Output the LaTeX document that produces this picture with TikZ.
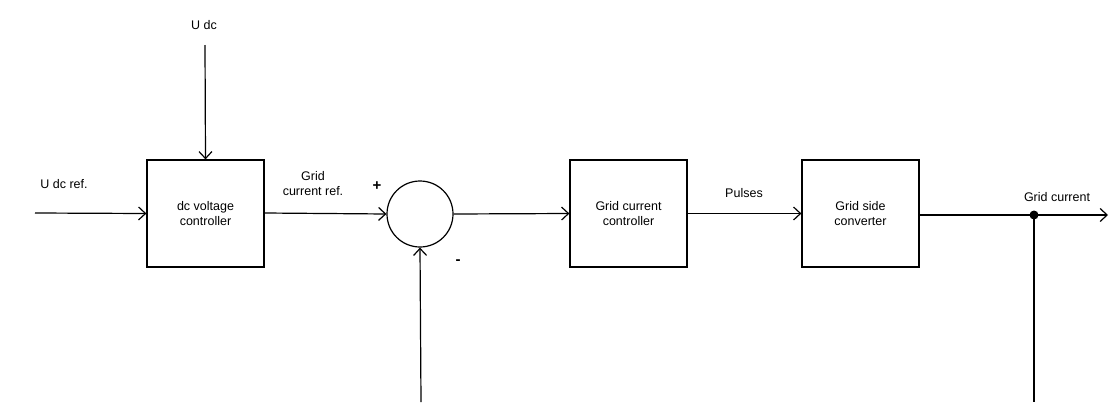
\documentclass[tikz,border=0pt]{standalone}
\usepackage{fontspec}
\setmainfont{Liberation Sans}
\usetikzlibrary{arrows.meta}
\begin{document}
\begin{tikzpicture}[x=1pt,y=-1pt,
  every node/.style={font=\fontsize{12.5}{15}\selectfont, inner sep=0pt},
  blockbox/.style={draw, line width=1.2pt, minimum width=117pt, minimum height=107pt, align=center},
  sumnode/.style={draw, circle, line width=1.2pt, minimum size=66pt},
  conn/.style={line width=1.2pt, -{Straight Barb[length=7pt,width=13pt,line width=1.2pt]}},
  wire/.style={line width=1.2pt},
  lbl/.style={align=center}]
\useasboundingbox (0,0) rectangle (1112,402);
% blocks
\node[blockbox] (dcv) at (205.5,213.5) {dc voltage\\controller};
\node[sumnode] (sum) at (420,214) {};
\node[blockbox] (gcc) at (628.5,213.5) {Grid current\\controller};
\node[blockbox] (gsc) at (860.5,213.5) {Grid side\\converter};
% free ends
\coordinate (inL) at (35,213);
\coordinate (udcTop) at (205,45);
\coordinate (jn) at (1034,215);
\coordinate (outR) at (1108,215);
\coordinate (fbBot) at (421,402);
\coordinate (jnBot) at (1034,402);
% labels
\node[lbl] (udcref) at (64,184) {U dc ref.};
\node[lbl] (udc) at (204,25) {U dc};
\node[lbl] (gref) at (313,184) {Grid\\current ref.};
\node[lbl, font=\fontsize{15}{15}\selectfont\bfseries] (plus) at (377,186) {+};
\node[lbl, font=\fontsize{15}{15}\selectfont\bfseries] (minus) at (458,262) {-};
\node[lbl] (puls) at (744,193) {Pulses};
\node[lbl] (gcur) at (1057,197) {Grid current};
% connectors
\draw[conn] (inL) -- (dcv.west);
\draw[conn] (udcTop) -- (dcv.north);
\draw[conn] (dcv.east |- 0,213) -- (sum.west);
\draw[conn] (sum.east) -- (gcc.west);
\draw[conn] (gcc.east) -- (gsc.west);
\draw[wire] (gsc.east |- jn) -- (jn);
\draw[conn] (jn) -- (outR);
\fill (jn) circle (4.5pt);
\draw[wire] (jn) -- (jnBot);
\draw[conn] (fbBot) -- (sum.south);
\end{tikzpicture}
\end{document}
